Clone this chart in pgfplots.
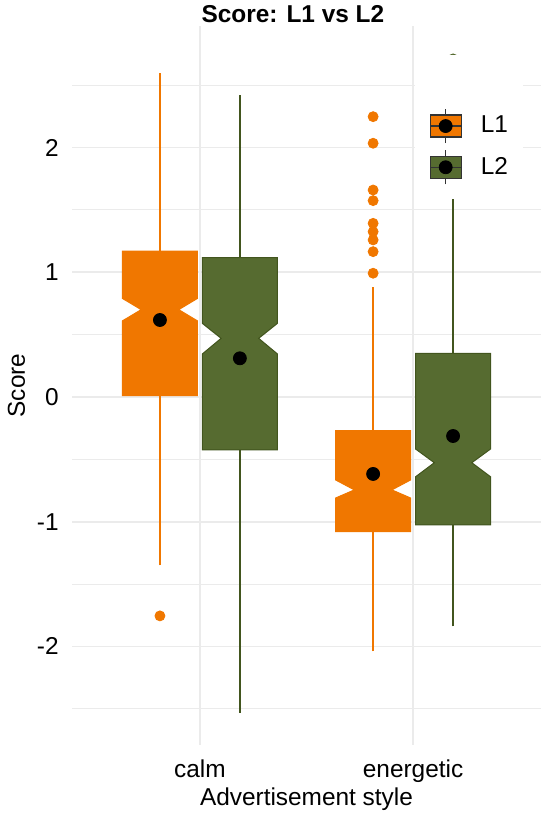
\documentclass[border=0pt]{standalone}
\usepackage{fontspec}
\setmainfont{Liberation Sans}
\usepackage{pgfplots}
\pgfplotsset{compat=1.18}

\definecolor{l1}{RGB}{240,119,0}
\definecolor{l2}{RGB}{86,107,48}
\definecolor{l2line}{RGB}{66,85,30}
\definecolor{gridc}{RGB}{235,235,235}

% boxplot glyph for the legend keys
\pgfplotsset{
  boxkey/.style={legend image code/.code={
      \draw[black!80, line width=0.6pt] (7.75pt,-8.5pt) -- (7.75pt,8.5pt);
      \draw[black!80, line width=0.6pt, fill=#1] (0pt,-5.5pt) rectangle (15.5pt,5.5pt);
      \draw[black!80, line width=0.6pt] (0pt,0pt) -- (15.5pt,0pt);
      \fill[black] (7.75pt,0pt) circle (3.25pt);}},
  spacerkey/.style={legend image code/.code={
      \path[draw=none, fill=none] (0pt,0pt) rectangle (15.5pt,16pt);}},
}

\begin{document}
\begin{tikzpicture}[font=\fontsize{12.2}{14.6}\selectfont]
\begin{axis}[
    scale only axis, width=234.5pt, height=359.5pt,
    xmin=0.4, xmax=2.6, ymin=-2.79, ymax=2.974,
    xtick={1,2}, xticklabels={calm,energetic},
    ytick={-2,-1,0,1,2}, yticklabels={-2,-1,0,1,2},
    minor ytick={-2.5,-1.5,-0.5,0.5,1.5,2.5},
    xmajorgrids, ymajorgrids, yminorgrids,
    major grid style={gridc, line width=0.8pt},
    minor grid style={gridc, line width=0.5pt},
    axis line style={draw=none},
    tick style={draw=none}, major tick length=0pt, minor tick length=0pt,
    xticklabel style={anchor=base, inner sep=0pt, yshift=-16pt},
    yticklabel style={anchor=east, inner sep=0pt, xshift=-6.5pt},
    title={Score: L1 vs L2},
    title style={font=\fontsize{12.2}{14.6}\selectfont\bfseries,
                 at={([yshift=1.5pt]rel axis cs:0.471,1)}, anchor=base, inner sep=0pt, yshift=-6pt},
    xlabel={Advertisement style},
    xlabel style={at={([yshift=-30pt]rel axis cs:0.5,0)}, anchor=base, inner sep=0pt},
    ylabel={Score},
    ylabel style={at={([xshift=-23.5pt]rel axis cs:0,0.5)}, anchor=base, inner sep=0pt, rotate=0},
    legend style={at={(axis cs:2.005,2.745)}, anchor=north west, fill=white, draw=none,
                  inner xsep=7.5pt, inner ysep=7pt, row sep=3pt, column sep=9.5pt,
                  font=\fontsize{12.2}{14.6}\selectfont, nodes={inner sep=0pt}},
    legend cell align=left,
]
\coordinate (pSW) at (rel axis cs:0,0);
\coordinate (pNE) at (rel axis cs:1,1);

% whiskers
\addplot[l1, line width=0.9pt, forget plot] coordinates {(0.8125,-1.35) (0.8125,2.60)};
\addplot[l2line, line width=0.9pt, forget plot] coordinates {(1.1875,-2.53) (1.1875,2.42)};
\addplot[l1, line width=0.9pt, forget plot] coordinates {(1.8125,-2.04) (1.8125,0.88)};
\addplot[l2line, line width=0.9pt, forget plot] coordinates {(2.1875,-1.84) (2.1875,2.00)};

% notched boxes
\addplot[draw=l1, fill=l1, line width=0.5pt, forget plot] coordinates {
  (0.6365,0.01) (0.9885,0.01) (0.9885,0.61) (0.9005,0.70) (0.9885,0.79)
  (0.9885,1.17) (0.6365,1.17) (0.6365,0.79) (0.7245,0.70) (0.6365,0.61)} -- cycle;
\addplot[draw=l2line, fill=l2, line width=0.5pt, forget plot] coordinates {
  (1.0115,-0.425) (1.3635,-0.425) (1.3635,0.345) (1.2755,0.47) (1.3635,0.59)
  (1.3635,1.117) (1.0115,1.117) (1.0115,0.59) (1.0995,0.47) (1.0115,0.345)} -- cycle;
\addplot[draw=l1, fill=l1, line width=0.5pt, forget plot] coordinates {
  (1.6365,-1.08) (1.9885,-1.08) (1.9885,-0.81) (1.9005,-0.745) (1.9885,-0.665)
  (1.9885,-0.27) (1.6365,-0.27) (1.6365,-0.665) (1.7245,-0.745) (1.6365,-0.81)} -- cycle;
\addplot[draw=l2line, fill=l2, line width=0.5pt, forget plot] coordinates {
  (2.0115,-1.026) (2.3635,-1.026) (2.3635,-0.64) (2.2755,-0.527) (2.3635,-0.417)
  (2.3635,0.35) (2.0115,0.35) (2.0115,-0.417) (2.0995,-0.527) (2.0115,-0.64)} -- cycle;

% outliers
\addplot[only marks, mark=*, mark size=2.5pt, mark options={draw=l1, fill=l1}, forget plot]
  coordinates {(0.8125,-1.755) (1.8125,2.247) (1.8125,2.034) (1.8125,1.659) (1.8125,1.574)
  (1.8125,1.392) (1.8125,1.325) (1.8125,1.259) (1.8125,1.165) (1.8125,0.992)};
\addplot[only marks, mark=*, mark size=2.5pt, mark options={draw=l2, fill=l2}, forget plot]
  coordinates {(2.1875,2.71)};

% means
\addplot[only marks, mark=*, mark size=3.25pt, mark options={draw=black, fill=black}, forget plot]
  coordinates {(0.8125,0.617) (1.1875,0.31) (1.8125,-0.617) (2.1875,-0.313)};

\addlegendimage{spacerkey}
\addlegendentry{}
\addlegendimage{boxkey=l1}
\addlegendentry{L1}
\addlegendimage{boxkey=l2}
\addlegendentry{L2}
\end{axis}
\pgfresetboundingbox
\useasboundingbox ([xshift=-36pt,yshift=-36.5pt]pSW) rectangle ([xshift=2.5pt,yshift=13pt]pNE);
\end{tikzpicture}
\end{document}
